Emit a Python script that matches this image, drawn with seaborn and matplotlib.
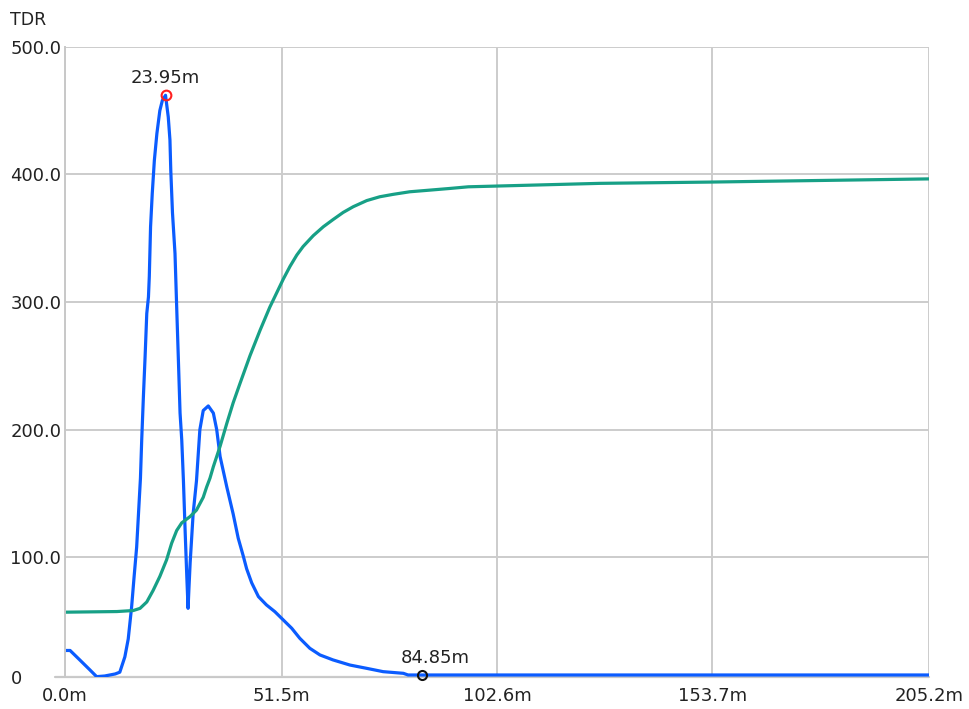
import matplotlib
matplotlib.use("Agg")
import matplotlib.pyplot as plt
import pandas as pd
import seaborn as sns

# curva TDR (azul), distancia en metros
dist_tdr = [0.0, 1.3, 3.6, 6.0, 7.6, 9.5, 12.0, 13.1, 14.3, 15.1, 15.9, 16.5, 17.1, 17.5,
            18.0, 18.3, 18.7, 19.1, 19.5, 19.9, 20.1, 20.4, 20.8, 21.3, 21.9, 22.6, 23.2,
            23.95, 24.6, 25.0, 25.2, 25.6, 26.2, 26.6, 27.0, 27.4, 27.8, 28.2, 28.6, 29.0,
            29.3, 29.5, 29.8, 30.5, 31.3, 32.1, 32.9, 34.1, 35.3, 36.1, 36.9, 38.5, 40.0,
            41.2, 42.4, 43.2, 44.4, 46.0, 47.9, 49.9, 51.9, 53.9, 55.8, 58.2, 60.6, 63.7,
            67.7, 71.7, 75.6, 80.4, 81.5, 84.85, 205.2]
val_tdr = [27, 27, 19.6, 11.8, 6.5, 7, 8.6, 10, 22, 36, 61, 85, 108, 132,
           162, 192, 226, 257, 291, 304, 320, 359, 385, 411, 432, 450, 458,
           462, 445, 427, 403, 370, 338, 296, 255, 213, 192, 160, 121, 85,
           60, 75, 96, 134, 160, 200, 215, 218.6, 213, 200, 179, 155, 134,
           115, 101, 91, 80, 69.2, 62.7, 57.4, 50.9, 44.4, 36.6, 28.7, 23.5, 19.6,
           15.6, 13, 10.4, 9.1, 7.8, 7.8, 7.8]

# curva acumulada (verde)
dist_acum = [0.0, 12.4, 16.3, 17.9, 19.5, 21.0, 22.6, 24.2, 25.4, 26.6, 27.8, 29.8, 31.3,
             32.9, 33.7, 34.5, 35.3, 36.9, 38.5, 40.0, 41.6, 44.0, 46.4, 48.7, 50.3, 51.9,
             53.5, 55.1, 56.6, 59.0, 61.4, 63.7, 66.1, 68.5, 71.7, 74.8, 78.0, 81.9, 86.7,
             91.4, 95.8, 127.0, 153.1, 205.2]
val_acum = [57, 57.5, 58.3, 60, 65, 74, 85, 98, 111, 121, 127, 132, 137,
            147, 155, 162, 171, 187, 205, 221, 236, 258, 278, 296, 307, 318,
            328, 336.8, 343.5, 352, 359, 364.6, 370.2, 374.7, 379.5, 382.5, 384.4, 386.4, 387.7,
            389, 390.3, 393, 394, 396.5]

x_ticks = [0.0, 51.5, 102.6, 153.7, 205.2]
x_labels = ["0.0m", "51.5m", "102.6m", "153.7m", "205.2m"]
y_ticks = [6.2, 100, 200, 300, 400, 500]
y_labels = ["0", "100.0", "200.0", "300.0", "400.0", "500.0"]

pico_x, pico_y = 23.95, 462
fin_x, fin_y = 84.85, 7.8

sns.set_style("white")
plt.rcParams['font.family'] = ['DejaVu Sans']
plt.rcParams['font.size'] = 13

df = pd.concat([
    pd.DataFrame({"dist": dist_tdr, "valor": val_tdr, "serie": "tdr"}),
    pd.DataFrame({"dist": dist_acum, "valor": val_acum, "serie": "acum"}),
])

fig = plt.figure(figsize=(9.7, 7.09), dpi=100)
ax = fig.add_axes([0.0666, 0.0451, 0.958 - 0.0666, 0.934 - 0.0451])

sns.lineplot(data=df, x="dist", y="valor", hue="serie",
             palette={"tdr": "#0b5cff", "acum": "#17a086"},
             estimator=None, sort=False, linewidth=2.3, legend=False, ax=ax)

ax.set_xlim(0, 205.2)
ax.set_ylim(y_ticks[0], 500)
ax.set_xticks(x_ticks)
ax.set_xticklabels(x_labels)
ax.set_yticks(y_ticks)
ax.set_yticklabels(y_labels)
ax.set_xlabel("")
ax.set_ylabel("")
ax.grid(True, color="#cccccc", linewidth=1.4)
ax.set_axisbelow(True)

for s in ["top", "right", "bottom"]:
    ax.spines[s].set_visible(False)
ax.spines["left"].set_color("#c8c8c8")
ax.spines["left"].set_linewidth(1.4)
ax.axhline(y_ticks[0], xmin=-0.011, xmax=1, color="#c8c8c8", linewidth=1.6, clip_on=False, zorder=0.5)

ax.tick_params(axis="both", length=0, colors="#222222")
ax.tick_params(axis="y", pad=39)
ax.tick_params(axis="x", pad=7)
for lab in ax.get_yticklabels():
    lab.set_ha("left")

# marcadores
ax.plot([pico_x], [pico_y], "o", mfc="none", mec="#ff2020", ms=7, mew=1.5, zorder=5)
ax.annotate("23.95m", (pico_x, pico_y), xytext=(0, 12.5), textcoords="offset points",
            ha="center", va="center", color="#222222")
ax.plot([fin_x], [fin_y], "o", mfc="none", mec="#111111", ms=6.5, mew=1.5, zorder=5, clip_on=False)
ax.annotate("84.85m", (fin_x, fin_y), xytext=(9.5, 12), textcoords="offset points",
            ha="center", va="center", color="#222222")

fig.text(10 / 970, 1 - 20 / 709, "TDR", ha="left", va="center", color="#222222", fontsize=12.5)

fig.savefig("out.png", dpi=100)
